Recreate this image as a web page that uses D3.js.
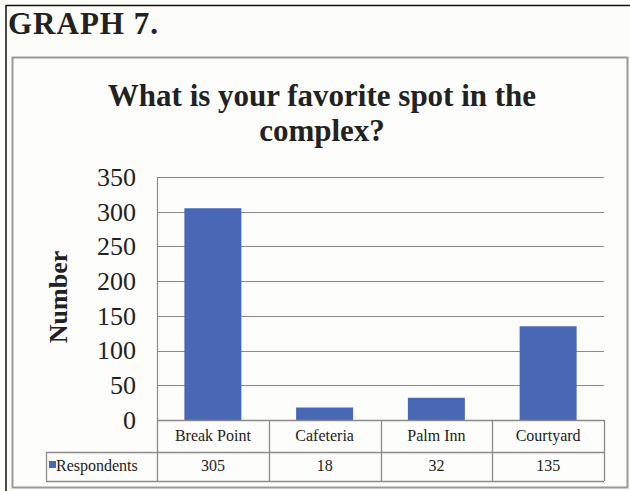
<!DOCTYPE html>
<html>
<head>
<meta charset="utf-8">
<script src="https://cdn.jsdelivr.net/npm/d3@7"></script>
<style>
  html, body { margin: 0; padding: 0; background: #fcfcf8; }
  svg { display: block; }
  text { font-family: "Liberation Serif", "DejaVu Serif", serif; fill: #222; }
</style>
</head>
<body>
<svg id="chart" width="630" height="491"></svg>
<script>
// Survey responses: favourite spot in the complex
const categories = ["Break Point", "Cafeteria", "Palm Inn", "Courtyard"];
const respondents = [305, 18, 32, 135];
const yTicks = [0, 50, 100, 150, 200, 250, 300, 350];
const seriesName = "Respondents";

const svg = d3.select("#chart");
const barColor = "#4a67b5";
const gridColor = "#8a8a8a";

// page frame and heading
svg.append("line").attr("x1", 6).attr("x2", 630).attr("y1", 5.5).attr("y2", 5.5)
  .attr("stroke", "#111").attr("stroke-width", 1.5);
svg.append("line").attr("x1", 6).attr("x2", 6).attr("y1", 5).attr("y2", 491)
  .attr("stroke", "#111").attr("stroke-width", 1.5);
svg.append("text").attr("x", 8).attr("y", 34)
  .style("font-size", "31px").style("font-weight", "bold").style("letter-spacing", "1px")
  .text("GRAPH 7.");

// chart box
svg.append("rect").attr("x", 12.5).attr("y", 57.5).attr("width", 615).attr("height", 430)
  .attr("fill", "#fdfdfb").attr("stroke", "#999").attr("stroke-width", 2);

// title
const title = svg.append("text").attr("text-anchor", "middle")
  .style("font-size", "31px").style("font-weight", "bold");
title.append("tspan").attr("x", 322).attr("y", 106).text("What is your favorite spot in the");
title.append("tspan").attr("x", 322).attr("y", 141).text("complex?");

// plot scales
const plotL = 157, plotR = 604, plotT = 177, plotB = 420;
const x = d3.scaleBand().domain(categories).range([plotL, plotR]).paddingInner(0).paddingOuter(0);
const y = d3.scaleLinear().domain([0, 350]).range([plotB, plotT]);

// gridlines
svg.append("g").selectAll("line").data(yTicks.filter(t => t > 0)).join("line")
  .attr("x1", plotL).attr("x2", plotR)
  .attr("y1", d => Math.round(y(d)) + 0.5).attr("y2", d => Math.round(y(d)) + 0.5)
  .attr("stroke", gridColor).attr("stroke-width", 1.2);

// y axis labels
const yAxis = d3.axisLeft(y).tickValues(yTicks).tickSize(0).tickPadding(21);
const gy = svg.append("g").attr("transform", `translate(${plotL},0)`).call(yAxis);
gy.select(".domain").remove();
gy.selectAll("text")
  .style("font-family", '"Liberation Serif", serif').style("font-size", "26px").attr("fill", "#222");

svg.append("text").attr("transform", `translate(67,297) rotate(-90)`)
  .attr("text-anchor", "middle").style("font-size", "26px").style("font-weight", "bold")
  .text("Number");

// bars
const barW = x.bandwidth() * 0.51;
svg.append("g").selectAll("rect").data(categories).join("rect")
  .attr("x", d => x(d) + (x.bandwidth() - barW) / 2)
  .attr("y", (d, i) => y(respondents[i]))
  .attr("width", barW)
  .attr("height", (d, i) => y(0) - y(respondents[i]))
  .attr("fill", barColor);

// left axis line
svg.append("line").attr("x1", plotL + 0.5).attr("x2", plotL + 0.5).attr("y1", plotT).attr("y2", plotB)
  .attr("stroke", gridColor).attr("stroke-width", 1.2);

// data table
const row1T = plotB, row1B = 452, row2B = 481, hdrL = 46;
const tbl = svg.append("g").attr("stroke", gridColor).attr("stroke-width", 1.3).attr("fill", "none");
tbl.append("line").attr("x1", plotL).attr("x2", plotR).attr("y1", row1T + 0.5).attr("y2", row1T + 0.5);
tbl.append("line").attr("x1", hdrL).attr("x2", plotR).attr("y1", row1B + 0.5).attr("y2", row1B + 0.5);
tbl.append("line").attr("x1", hdrL).attr("x2", plotR).attr("y1", row2B + 0.5).attr("y2", row2B + 0.5);
tbl.append("line").attr("x1", hdrL + 0.5).attr("x2", hdrL + 0.5).attr("y1", row1B).attr("y2", row2B);
const dividers = categories.map(c => x(c)).concat([plotR]);
tbl.selectAll("line.div").data(dividers).join("line").attr("class", "div")
  .attr("x1", d => Math.round(d) + 0.5).attr("x2", d => Math.round(d) + 0.5)
  .attr("y1", row1T).attr("y2", row2B);

svg.append("g").selectAll("text").data(categories).join("text")
  .attr("x", d => x(d) + x.bandwidth() / 2).attr("y", 441)
  .attr("text-anchor", "middle").style("font-size", "16px").text(d => d);
svg.append("g").selectAll("text").data(respondents).join("text")
  .attr("x", (d, i) => x(categories[i]) + x.bandwidth() / 2).attr("y", 471)
  .attr("text-anchor", "middle").style("font-size", "16px").text(d => d);

// legend key in header cell
svg.append("rect").attr("x", 49).attr("y", 461).attr("width", 7).attr("height", 7).attr("fill", barColor);
svg.append("text").attr("x", 56).attr("y", 471).style("font-size", "16px").text(seriesName);
</script>
</body>
</html>
